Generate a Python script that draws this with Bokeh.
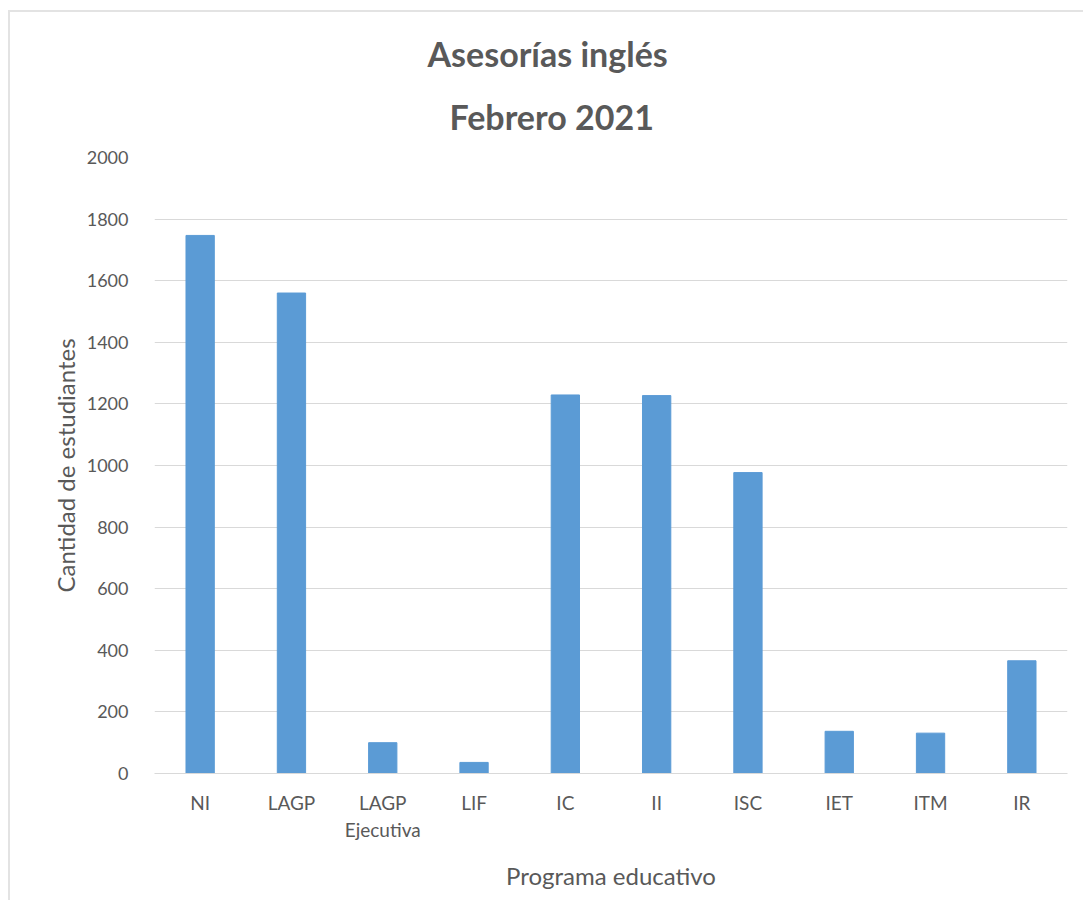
from bokeh.plotting import figure
from bokeh.models import Range1d, FactorRange, FixedTicker, Title, ColumnDataSource
from bokeh.embed import file_html
from bokeh.resources import INLINE

# ---- data ----
programas = ["NI", "LAGP", "LAGP\nEjecutiva", "LIF", "IC", "II", "ISC", "IET", "ITM", "IR"]
estudiantes = [1747, 1560, 100, 36, 1229, 1227, 977, 137, 131, 366]
y_ticks = [0, 200, 400, 600, 800, 1000, 1200, 1400, 1600, 1800, 2000]
titulo_1 = "Asesorías inglés"
titulo_2 = "Febrero 2021"
eje_x = "Programa educativo"
eje_y = "Cantidad de estudiantes"

TEXT = "#595959"
GRID = "#d9d9d9"
BAR = "#5b9bd5"
FONT = "Lato"

source = ColumnDataSource(dict(programa=programas, valor=estudiantes))

p = figure(
    width=1075, height=890,
    x_range=FactorRange(factors=programas),
    y_range=Range1d(0, 2000),
    output_backend="svg", toolbar_location=None,
    min_border_left=144, min_border_right=18,
    min_border_top=145, min_border_bottom=129,
    outline_line_color=None,
    background_fill_color="white", border_fill_color="white",
)
p.margin = (10, 0, 0, 8)
p.styles = {"border-left": "2px solid #e3e3e3", "border-top": "2px solid #e3e3e3"}

p.vbar(x="programa", top="valor", width=0.31, source=source,
       fill_color=BAR, line_color=BAR)

# titles (first added is closest to the frame)
t2 = Title(text=titulo_2, align="left", text_font=FONT, text_font_size="34px",
           text_font_style="bold", text_color=TEXT, offset=295, standoff=41)
t1 = Title(text=titulo_1, align="left", text_font=FONT, text_font_size="34px",
           text_font_style="bold", text_color=TEXT, offset=273, standoff=0,
           text_line_height=0.6)
spacer = Title(text=" ", text_font_size="1px", standoff=8)
p.add_layout(t2, "above")
p.add_layout(t1, "above")
p.add_layout(spacer, "above")

# y axis
p.yaxis.ticker = FixedTicker(ticks=y_ticks)
p.yaxis.axis_line_color = None
p.yaxis.major_tick_line_color = None
p.yaxis.minor_tick_line_color = None
p.yaxis.major_tick_out = 0
p.yaxis.major_label_standoff = 26
p.yaxis.major_label_text_font = FONT
p.yaxis.major_label_text_font_size = "18px"
p.yaxis.major_label_text_color = TEXT
p.yaxis.axis_label = eje_y
p.yaxis.axis_label_text_font = FONT
p.yaxis.axis_label_text_font_size = "24px"
p.yaxis.axis_label_text_font_style = "normal"
p.yaxis.axis_label_text_color = TEXT
p.yaxis.axis_label_standoff = 4

# x axis
p.xaxis.axis_line_color = GRID
p.xaxis.axis_line_width = 1
p.xaxis.major_tick_line_color = None
p.xaxis.minor_tick_line_color = None
p.xaxis.major_tick_out = 0
p.xaxis.major_label_standoff = 17
p.xaxis.major_label_text_font = FONT
p.xaxis.major_label_text_font_size = "19px"
p.xaxis.major_label_text_color = TEXT
p.xaxis.axis_label = eje_x
p.xaxis.axis_label_text_font = FONT
p.xaxis.axis_label_text_font_size = "24px"
p.xaxis.axis_label_text_font_style = "normal"
p.xaxis.axis_label_text_color = TEXT
p.xaxis.axis_label_standoff = 17

# grid
p.xgrid.grid_line_color = None
p.ygrid.grid_line_color = GRID
p.ygrid.grid_line_width = 1
p.ygrid.ticker = FixedTicker(ticks=y_ticks)

open("out.html", "w").write(file_html(p, INLINE))
